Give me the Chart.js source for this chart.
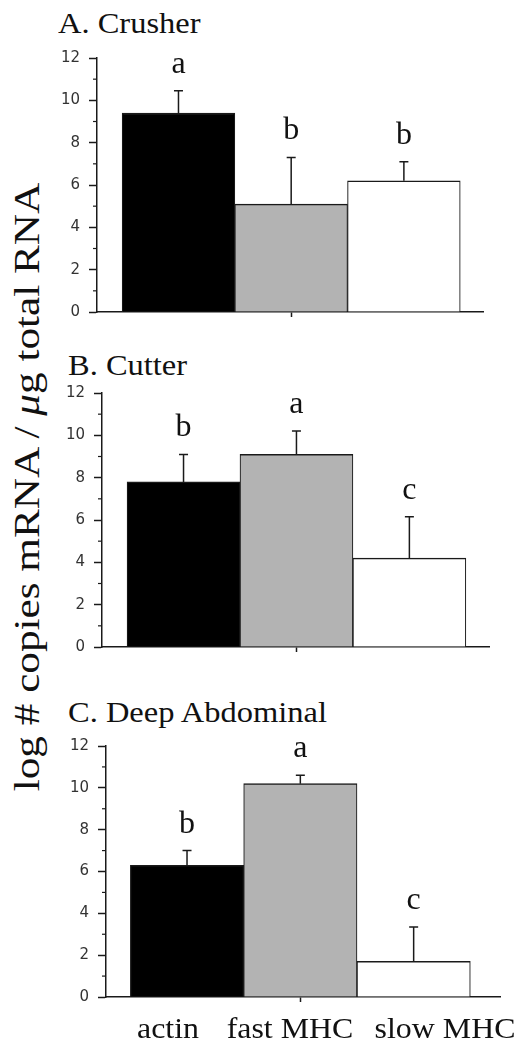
<!DOCTYPE html>
<html>
<head>
<meta charset="utf-8">
<script src="https://cdn.jsdelivr.net/npm/chart.js@4.4.1/dist/chart.umd.min.js"></script>
<style>
  html, body { margin: 0; padding: 0; background: #fff; }
  #page {
    position: relative; width: 520px; height: 1047px; overflow: hidden;
    font-family: "Liberation Serif", serif; color: #111;
  }
  .panel { position: absolute; left: 0; width: 520px; height: 290px; }
  .serif { font-family: "Liberation Serif", serif; font-weight: normal; }
  .title {
    position: absolute; font-size: 29px; line-height: 29px; white-space: nowrap;
    transform: scaleX(1.12); transform-origin: 0 0;
  }
  .xlab {
    position: absolute; top: 1014px; font-size: 29px; line-height: 29px; white-space: nowrap;
    transform: translateX(-50%) scaleX(1.1);
  }
  #ylab {
    position: absolute; left: 27px; top: 487px; font-size: 36px; line-height: 36px; white-space: nowrap;
    transform: translate(-50%, -50%) rotate(-90deg) scaleX(1.2);
  }
</style>
</head>
<body>
<div id="page">
  <div id="ylab" class="serif">log # copies mRNA / <i class="serif" style="font-style:italic">μ</i>g total RNA</div>

  <div class="title serif" style="left:58px; top:9px;">A. Crusher</div>
  <canvas id="crusherChart" class="panel" width="520" height="290" style="top:40px;"></canvas>

  <div class="title serif" style="left:68px; top:351px;">B. Cutter</div>
  <canvas id="cutterChart" class="panel" width="520" height="290" style="top:375px;"></canvas>

  <div class="title serif" style="left:68px; top:698px;">C. Deep Abdominal</div>
  <canvas id="deepChart" class="panel" width="520" height="290" style="top:725px;"></canvas>

  <div class="xlab serif" style="left:168px;">actin</div>
  <div class="xlab serif" style="left:290px;">fast MHC</div>
  <div class="xlab serif" style="left:445px;">slow MHC</div>
</div>

<script>
// --- data ---
const categories = ["actin", "fast MHC", "slow MHC"];

const crusherMeans = [9.4, 5.1, 6.2];
const crusherErrors = [1.05, 2.2, 0.9];
const crusherLetters = ["a", "b", "b"];

const cutterMeans = [7.8, 9.1, 4.2];
const cutterErrors = [1.3, 1.1, 1.95];
const cutterLetters = ["b", "a", "c"];

const deepMeans = [6.3, 10.2, 1.7];
const deepErrors = [0.7, 0.4, 1.65];
const deepLetters = ["b", "a", "c"];

const yMin = 0;
const yMax = 12;
const yStep = 2;

// --- styling ---
const C = {
  ink: "#1a1a1a",
  tickText: "#333",
  bars: ["#000000", "#b3b3b3", "#ffffff"],
};

/** Error bars (upward only) with significance letters above them. */
const errorBarPlugin = {
  id: "errorBars",
  afterDatasetsDraw(chart, args, opts) {
    const { ctx } = chart;
    const y = chart.scales.y;
    const meta = chart.getDatasetMeta(0);
    ctx.save();
    ctx.strokeStyle = C.ink;
    ctx.lineWidth = 1.5;
    ctx.fillStyle = "#111";
    ctx.font = "32px 'Liberation Serif', serif";
    ctx.textAlign = "center";
    ctx.textBaseline = "alphabetic";
    meta.data.forEach((bar, i) => {
      const top = y.getPixelForValue(opts.means[i] + opts.errors[i]);
      ctx.beginPath();
      ctx.moveTo(bar.x, bar.y);
      ctx.lineTo(bar.x, top);
      ctx.moveTo(bar.x - 4.5, top);
      ctx.lineTo(bar.x + 4.5, top);
      ctx.stroke();
      ctx.fillText(opts.letters[i], bar.x, top - 18);
    });
    ctx.restore();
  },
};

/** Short minor ticks on the odd values of the y axis. */
const minorTickPlugin = {
  id: "minorTicks",
  afterDraw(chart) {
    const { ctx } = chart;
    const y = chart.scales.y;
    ctx.save();
    ctx.strokeStyle = C.ink;
    ctx.lineWidth = 1.2;
    for (let v = yMin + yStep / 2; v < yMax; v += yStep) {
      const py = y.getPixelForValue(v);
      ctx.beginPath();
      ctx.moveTo(y.right - 4, py);
      ctx.lineTo(y.right, py);
      ctx.stroke();
    }
    ctx.restore();
  },
};

function renderPanel(id, means, errors, letters, geo) {
  const ctx = document.getElementById(id);
  return new Chart(ctx, {
    type: "bar",
    data: {
      labels: categories,
      datasets: [
        {
          data: means.map((m, i) => ({ x: i, y: m })),
          backgroundColor: C.bars,
          borderColor: C.ink,
          borderWidth: { top: 1.5, left: 1.1, right: 1.1, bottom: 0 },
          borderSkipped: false,
          barPercentage: 1,
          categoryPercentage: 1,
        },
      ],
    },
    options: {
      responsive: false,
      animation: false,
      events: [],
      layout: { padding: { top: geo.padTop, bottom: geo.padBottom, right: geo.padRight, left: 0 } },
      plugins: {
        legend: { display: false },
        tooltip: { enabled: false },
        errorBars: { means, errors, letters },
      },
      scales: {
        x: {
          type: "linear",
          min: geo.xMin,
          max: geo.xMax,
          offset: false,
          z: 1,
          afterBuildTicks: (s) => { s.ticks = [{ value: 1 }]; },
          afterFit: (s) => { s.height = 0; },
          ticks: { display: false },
          grid: { display: true, offset: false, drawOnChartArea: false, tickLength: 5, tickColor: C.ink, tickWidth: 1.5 },
          border: { display: true, color: C.ink, width: 1.5 },
        },
        y: {
          min: yMin,
          max: yMax,
          afterFit: (s) => { s.width = geo.yWidth; },
          ticks: {
            stepSize: yStep,
            padding: 9,
            color: C.tickText,
            font: { family: "'DejaVu Sans', sans-serif", size: 15 },
          },
          grid: { drawOnChartArea: false, tickLength: 8, tickColor: C.ink, tickWidth: 1.5 },
          border: { color: C.ink, width: 1.5 },
        },
      },
    },
    plugins: [errorBarPlugin, minorTickPlugin],
  });
}

renderPanel("crusherChart", crusherMeans, crusherErrors, crusherLetters,
  { yWidth: 97, padTop: 17, padBottom: 17, padRight: 37, xMin: -0.723, xMax: 2.702 });
renderPanel("cutterChart", cutterMeans, cutterErrors, cutterLetters,
  { yWidth: 102, padTop: 17, padBottom: 16, padRight: 31, xMin: -0.722, xMax: 2.705 });
renderPanel("deepChart", deepMeans, deepErrors, deepLetters,
  { yWidth: 106, padTop: 21, padBottom: 13, padRight: 20, xMin: -0.715, xMax: 2.762 });
</script>
</body>
</html>
